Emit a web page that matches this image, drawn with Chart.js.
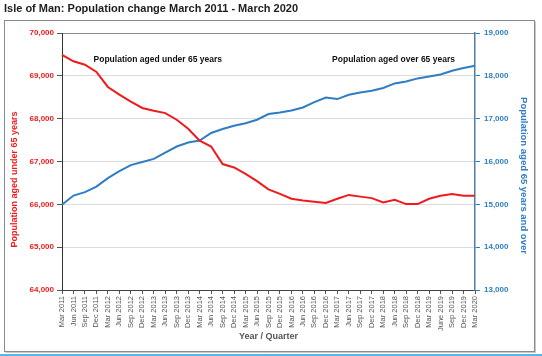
<!DOCTYPE html>
<html>
<head>
<meta charset="utf-8">
<script src="https://cdn.jsdelivr.net/npm/chart.js@4"></script>
<style>
html,body{margin:0;padding:0;background:#fff;}
canvas{display:block;}
</style>
</head>
<body>
<canvas id="c" width="542" height="356"></canvas>
<script>
const quarters = ["Mar 2011","Jun 2011","Sep 2011","Dec 2011","Mar 2012","Jun 2012","Sep 2012","Dec 2012","Mar 2013","Jun 2013","Sep 2013","Dec 2013","Mar 2014","Jun 2014","Sep 2014","Dec 2014","Mar 2015","Jun 2015","Sep 2015","Dec 2015","Mar 2016","Jun 2016","Sep 2016","Dec 2016","Mar 2017","Jun 2017","Sep 2017","Dec 2017","Mar 2018","Jun 2018","Sep 2018","Dec 2018","Mar 2019","June 2019","Sep 2019","Dec 2019","Mar 2020"];
const under65 = [69490,69340,69260,69090,68740,68560,68400,68250,68185,68130,67975,67765,67485,67350,66940,66860,66710,66540,66350,66245,66130,66090,66060,66030,66130,66220,66180,66145,66045,66105,66005,66005,66130,66200,66240,66200,66200];
const over65 = [14990,15205,15285,15415,15610,15775,15915,15990,16060,16210,16350,16445,16490,16665,16757,16835,16895,16975,17107,17145,17190,17262,17385,17495,17457,17558,17612,17652,17715,17823,17870,17940,17987,18033,18120,18182,18236];
const leftTicks = [64000,65000,66000,67000,68000,69000,70000];
const rightTicks = [13000,14000,15000,16000,17000,18000,19000];

const titleText = "Isle of Man: Population change March 2011 - March 2020";
const leftTitle = "Population aged under 65 years";
const rightTitle = "Population aged 65 years and over";
const xTitle = "Year / Quarter";
const noteUnder = "Population aged under 65 years";
const noteOver = "Population aged over 65 years";

const RED = '#f0191c';
const BLUE = '#2f7dc4';
const FONT = '"Liberation Sans", Arial, sans-serif';

const fmt = v => v.toLocaleString('en-US');

const framePlugin = {
  id: 'frame',
  beforeDraw(chart) {
    const ctx = chart.ctx;
    ctx.save();
    ctx.fillStyle = '#fff';
    ctx.fillRect(0, 0, chart.width, chart.height);
    ctx.strokeStyle = '#8a8a8a';
    ctx.lineWidth = 1;
    ctx.strokeRect(4.5, 20.5, 530, 331);
    ctx.strokeStyle = '#c8c8c8';
    ctx.beginPath();
    ctx.moveTo(5.5, 352.5); ctx.lineTo(535.5, 352.5); ctx.lineTo(535.5, 21.5);
    ctx.stroke();
    ctx.fillStyle = '#5cb3e4';
    ctx.fillRect(0, 354, chart.width, 2);
    ctx.restore();
  },
  afterDraw(chart) {
    const ctx = chart.ctx;
    const a = chart.chartArea;
    const xs = chart.scales.x, ys = chart.scales.y;
    ctx.save();
    ctx.textBaseline = 'middle';
    // main title
    ctx.font = 'bold 11px ' + FONT;
    ctx.fillStyle = '#1e1e1e';
    ctx.textAlign = 'left';
    ctx.fillText(titleText, 4, 9);
    // axis titles
    ctx.textAlign = 'center';
    ctx.fillStyle = RED;
    ctx.font = 'bold 9px ' + FONT;
    ctx.save();
    ctx.translate(15, (a.top + a.bottom) / 2 + 18);
    ctx.rotate(-Math.PI / 2);
    ctx.fillText(leftTitle, 0, 0);
    ctx.restore();
    ctx.fillStyle = BLUE;
    ctx.font = 'bold 9.5px ' + FONT;
    ctx.save();
    ctx.translate(524, (a.top + a.bottom) / 2 + 14);
    ctx.rotate(Math.PI / 2);
    ctx.fillText(rightTitle, 0, 0);
    ctx.restore();
    ctx.fillStyle = '#555';
    ctx.font = 'bold 9px ' + FONT;
    ctx.fillText(xTitle, (a.left + a.right) / 2, 337);
    // series notes
    ctx.fillStyle = '#111';
    ctx.font = 'bold 8.5px ' + FONT;
    const ny = ys.getPixelForValue(69375);
    ctx.textAlign = 'left';
    ctx.fillText(noteUnder, xs.getPixelForValue(2.75), ny);
    ctx.textAlign = 'right';
    ctx.fillText(noteOver, xs.getPixelForValue(34.25), ny);
    ctx.restore();
  }
};

new Chart(document.getElementById('c'), {
  type: 'line',
  data: {
    labels: quarters,
    datasets: [
      { label: leftTitle, data: under65, yAxisID: 'y', borderColor: RED, backgroundColor: RED, borderWidth: 2, pointRadius: 0, tension: 0 },
      { label: rightTitle, data: over65, yAxisID: 'y1', borderColor: BLUE, backgroundColor: BLUE, borderWidth: 2, pointRadius: 0, tension: 0 }
    ]
  },
  options: {
    responsive: false,
    animation: false,
    devicePixelRatio: 1,
    layout: { padding: { top: 33, left: 0, right: 0, bottom: 0 } },
    plugins: { legend: { display: false }, tooltip: { enabled: false }, title: { display: false } },
    scales: {
      x: {
        type: 'category',
        offset: false,
        afterFit(s) { s.height = 66; },
        grid: { drawOnChartArea: false, drawTicks: true, tickLength: 4, color: '#555' },
        border: { color: '#444', width: 1 },
        ticks: { autoSkip: false, maxRotation: 90, minRotation: 90, padding: 2, color: '#555', font: { family: FONT, size: 7.5 } }
      },
      y: {
        position: 'left',
        min: 64000, max: 70000,
        afterFit(s) { s.width = 62; },
        afterBuildTicks(s) { s.ticks = leftTicks.map(v => ({ value: v })); },
        grid: { color: ctx => (ctx.tick && ctx.tick.value === 70000) ? '#8a8a8a' : '#dcdcdc', tickLength: 5, tickColor: '#555' },
        border: { color: '#333', width: 1 },
        ticks: { padding: 3, color: RED, font: { family: FONT, size: 8, weight: 'bold' }, callback: v => fmt(v) }
      },
      y1: {
        position: 'right',
        min: 13000, max: 19000,
        afterFit(s) { s.width = 67; },
        afterBuildTicks(s) { s.ticks = rightTicks.map(v => ({ value: v })); },
        grid: { drawOnChartArea: false, tickLength: 5, color: BLUE },
        border: { color: '#4a7fae', width: 1.5 },
        ticks: { padding: 4, color: BLUE, font: { family: FONT, size: 8, weight: 'bold' }, callback: v => fmt(v) }
      }
    }
  },
  plugins: [framePlugin]
});
</script>
</body>
</html>
